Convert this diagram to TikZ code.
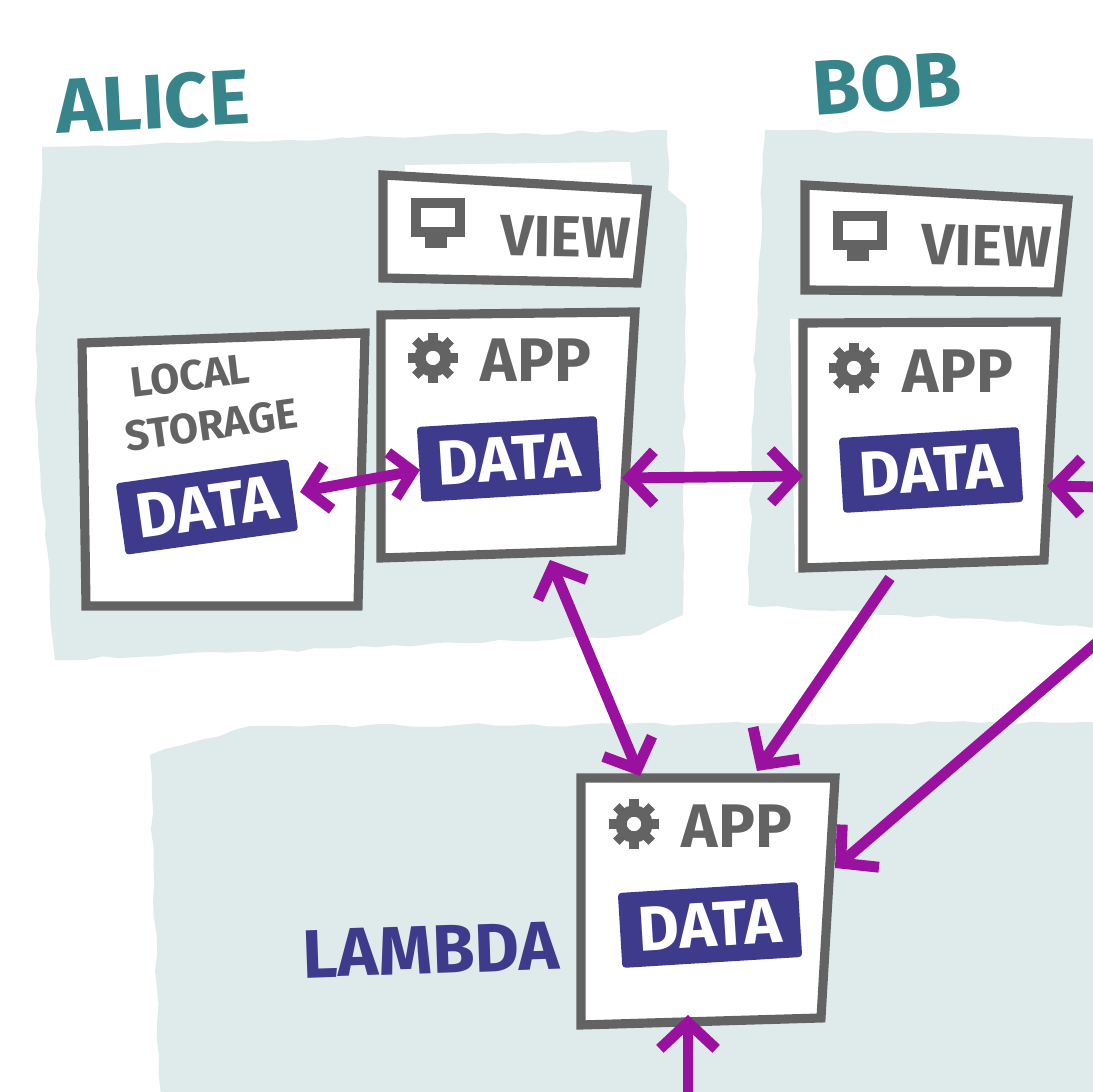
\documentclass[tikz,border=0pt]{standalone}
\usepackage{fontspec}
\setmainfont{Fira Sans}
\usetikzlibrary{arrows.meta,decorations.pathmorphing}
\definecolor{panelgrey}{HTML}{DFEAEA}
\definecolor{boxgrey}{HTML}{636363}
\definecolor{arrowpurple}{HTML}{9B119F}
\definecolor{datablue}{HTML}{3E3A8C}
\definecolor{nameteal}{HTML}{37848A}
\tikzset{
  panel/.style={fill=panelgrey, decorate, decoration={random steps, segment length=5pt, amplitude=0.5pt}},
  sketchbox/.style={draw=boxgrey, fill=white, line width=2.6pt},
  datatag/.style={fill=datablue, text=white, rounded corners=1pt, minimum width=1.8cm, minimum height=0.75cm, inner sep=0pt, font=\fontsize{18}{18}\selectfont\bfseries},
  apptext/.style={text=boxgrey, inner sep=0pt, font=\fontsize{17.5}{17.5}\selectfont\bfseries},
  viewtext/.style={text=boxgrey, inner sep=0pt, font=\fontsize{16.5}{16.5}\selectfont\bfseries},
  storetext/.style={text=boxgrey, inner sep=0pt, font=\fontsize{12}{12}\selectfont\bfseries},
  nametext/.style={inner sep=0pt, font=\fontsize{22}{22}\selectfont\bfseries},
  link/.style={draw=arrowpurple, line width=3.1pt},
  tipsmall/.style={arrows={Straight Barb[length=6pt,width=13pt,line width=3.1pt]-Straight Barb[length=6pt,width=13pt,line width=3.1pt]}},
  tipboth/.style={arrows={Straight Barb[length=7pt,width=15pt,line width=3.1pt]-Straight Barb[length=7pt,width=15pt,line width=3.1pt]}},
  tipone/.style={arrows={-Straight Barb[length=7.5pt,width=16pt,line width=3.1pt]}},
  gearicon/.pic={
    \draw [boxgrey, line width=3.2pt] (0,0) circle (1.3mm);
    \foreach \a in {0,45,...,315} \draw [boxgrey, line width=2.6pt] (\a:17) -- (\a:25);
  },
  monitoricon/.pic={
    \draw [boxgrey, line width=2.8pt] (0,0) -- (44,0) -- (44,29) -- (0,29) -- cycle;
    \fill [boxgrey] (9,29) rectangle (31,45);
  }
}
\begin{document}
\begin{tikzpicture}[x=0.01cm,y=-0.01cm]
\clip (0,0) rectangle (1093,1092);
\fill [white] (0,0) rectangle (1093,1092);
\fill [panel] (42,147) -- (350,138) -- (667,130) -- (668,190) -- (686,205) -- (683,615) -- (640,635) -- (350,648) -- (55,660) -- (35,400) -- cycle;
\fill [panel] (765,130) -- (1000,135) -- (1110,140) -- (1110,628) -- (900,615) -- (748,605) -- (755,350) -- cycle;
\fill [panel] (150,755) -- (250,726) -- (700,724) -- (1110,722) -- (1110,1110) -- (160,1110) -- cycle;

\fill [white] (405,165) -- (630,162) -- (634,200) -- (405,190) -- cycle;
\fill [white] (790,319) -- (1060,318) -- (1060,340) -- (790,340) -- cycle;
\fill [white] (790,320) -- (810,320) -- (810,572) -- (795,572) -- cycle;
\draw [sketchbox] (82,343) -- (365,333) -- (358,606) -- (86,606) -- cycle;
\draw [sketchbox] (383,175) -- (647,190) -- (637,283) -- (383,278) -- cycle;
\draw [sketchbox] (381,315) -- (635,312) -- (621,550) -- (381,558) -- cycle;
\draw [sketchbox] (805,185) -- (1068,200) -- (1058,292) -- (805,290) -- cycle;
\draw [sketchbox] (803,323) -- (1056,322) -- (1044,560) -- (803,568) -- cycle;
\draw [sketchbox] (581,778) -- (835,778) -- (821,1018) -- (581,1025) -- cycle;

\node (alicelabel) [nametext, text=nameteal, rotate=3] at (153,102) {ALICE};
\node (boblabel) [nametext, text=nameteal, rotate=4] at (887,84) {BOB};
\node (lambdalabel) [nametext, text=datablue, rotate=2, font=\fontsize{19.5}{19.5}\selectfont\bfseries] at (431,950) {LAMBDA};

\pic at (416,203) {monitoricon};
\pic at (838,216) {monitoricon};
\node (aliceview) [viewtext, rotate=-1] at (566,237) {VIEW};
\node (bobview) [viewtext, rotate=-1] at (987,246) {VIEW};

\pic at (433,358) {gearicon};
\pic at (854,368) {gearicon};
\pic at (634,824) {gearicon};
\node (aliceapp) [apptext] at (536,360) {APP};
\node (bobapp) [apptext] at (958,371) {APP};
\node (lambdaapp) [apptext] at (737,826) {APP};

\node (localtitle) [storetext, rotate=7] at (190,376) {LOCAL};
\node (storagetitle) [storetext, rotate=8] at (211,425) {STORAGE};

\node (localdata) [datatag, rotate=8, minimum width=1.74cm, minimum height=0.72cm] at (207,507) {DATA};
\node (alicedata) [datatag, rotate=3.5] at (509,459) {DATA};
\node (bobdata) [datatag, rotate=3.5] at (931,470) {DATA};
\node (lambdadata) [datatag, rotate=3.5] at (710,925) {DATA};

\coordinate (localeast) at (300,492);
\coordinate (alicewest) at (420,470);
\coordinate (aliceeast) at (622,478);
\coordinate (alicesouth) at (550,560);
\coordinate (bobwest) at (803,476);
\coordinate (bobeast) at (1047,486);
\coordinate (bobsouth) at (890,578);
\coordinate (lambdanorthl) at (640,776);
\coordinate (lambdanorthr) at (757,771);
\coordinate (lambdaeast) at (835,868);
\coordinate (lambdasouth) at (688,1015);
\coordinate (offright) at (1100,487);
\coordinate (offfar) at (1100,640);
\coordinate (offbottom) at (688,1100);

\draw [link, tipsmall] (localeast) -- (alicewest);
\draw [link, tipboth] (aliceeast) -- (bobwest);
\draw [link, tipboth] (alicesouth) -- (lambdanorthl);
\draw [link, tipone] (bobsouth) -- (lambdanorthr);
\draw [link, tipone] (offfar) -- (lambdaeast);
\draw [link, tipone] (offright) -- (bobeast);
\draw [link, tipone] (offbottom) -- (lambdasouth);
\end{tikzpicture}
\end{document}
